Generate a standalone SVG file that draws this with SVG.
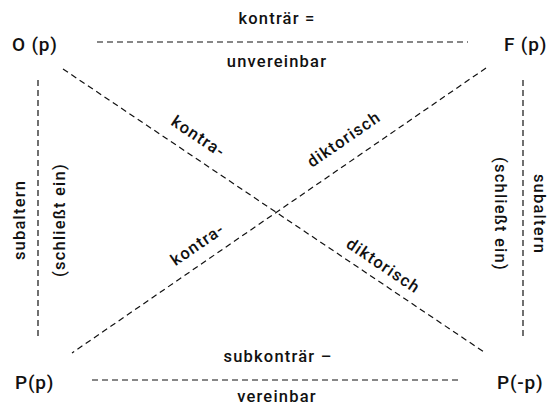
<svg xmlns="http://www.w3.org/2000/svg" width="551" height="408" viewBox="0 0 551 408">
  <style>
    text { font-family: Roboto, "Liberation Sans", sans-serif; font-weight: 500; fill: #111; }
    .corner { font-size: 19px; letter-spacing: 0.8px; }
    .lbl { font-size: 16.5px; letter-spacing: 1.2px; text-anchor: middle; }
    .edge { stroke: #111; stroke-width: 1.2; stroke-dasharray: 6 4; fill: none; }
  </style>
  <rect width="551" height="408" fill="#fff"/>

  <!-- dashed relation lines of the square -->
  <g id="connectors">
    <line class="edge" x1="97" y1="42" x2="468" y2="42"/>
    <line class="edge" x1="92" y1="380" x2="462" y2="380"/>
    <line class="edge" x1="38" y1="80" x2="38" y2="340"/>
    <line class="edge" x1="523" y1="80" x2="523" y2="340"/>
    <line class="edge" x1="63" y1="69" x2="484" y2="352"/>
    <line class="edge" x1="486" y1="68" x2="72" y2="353"/>
  </g>

  <!-- relation names -->
  <g id="labels">
    <text class="lbl" x="277" y="24">konträr =</text>
    <text class="lbl" x="277" y="67">unvereinbar</text>
    <text class="lbl" x="278" y="362">subkonträr –</text>
    <text class="lbl" x="277" y="402">vereinbar</text>
    <text class="lbl" transform="translate(25,220) rotate(-90)">subaltern</text>
    <text class="lbl" transform="translate(65,220) rotate(-90)">(schließt ein)</text>
    <text class="lbl" transform="translate(495,214) rotate(90)">(schließt ein)</text>
    <text class="lbl" transform="translate(534,214) rotate(90)">subaltern</text>
    <text class="lbl" transform="translate(188,152) rotate(33.9)" y="-13">kontra-</text>
    <text class="lbl" transform="translate(356,157) rotate(-34.6)" y="-16">diktorisch</text>
    <text class="lbl" transform="translate(207,258) rotate(-34.6)" y="-11">kontra-</text>
    <text class="lbl" transform="translate(373,281) rotate(33.9)" y="-13">diktorisch</text>
  </g>

  <g id="node-o"><text class="corner" x="12" y="51">O (p)</text></g>
  <g id="node-f"><text class="corner" x="504" y="51">F (p)</text></g>
  <g id="node-pp"><text class="corner" x="15" y="389">P(p)</text></g>
  <g id="node-pnp"><text class="corner" x="497" y="389">P(-p)</text></g>
</svg>
